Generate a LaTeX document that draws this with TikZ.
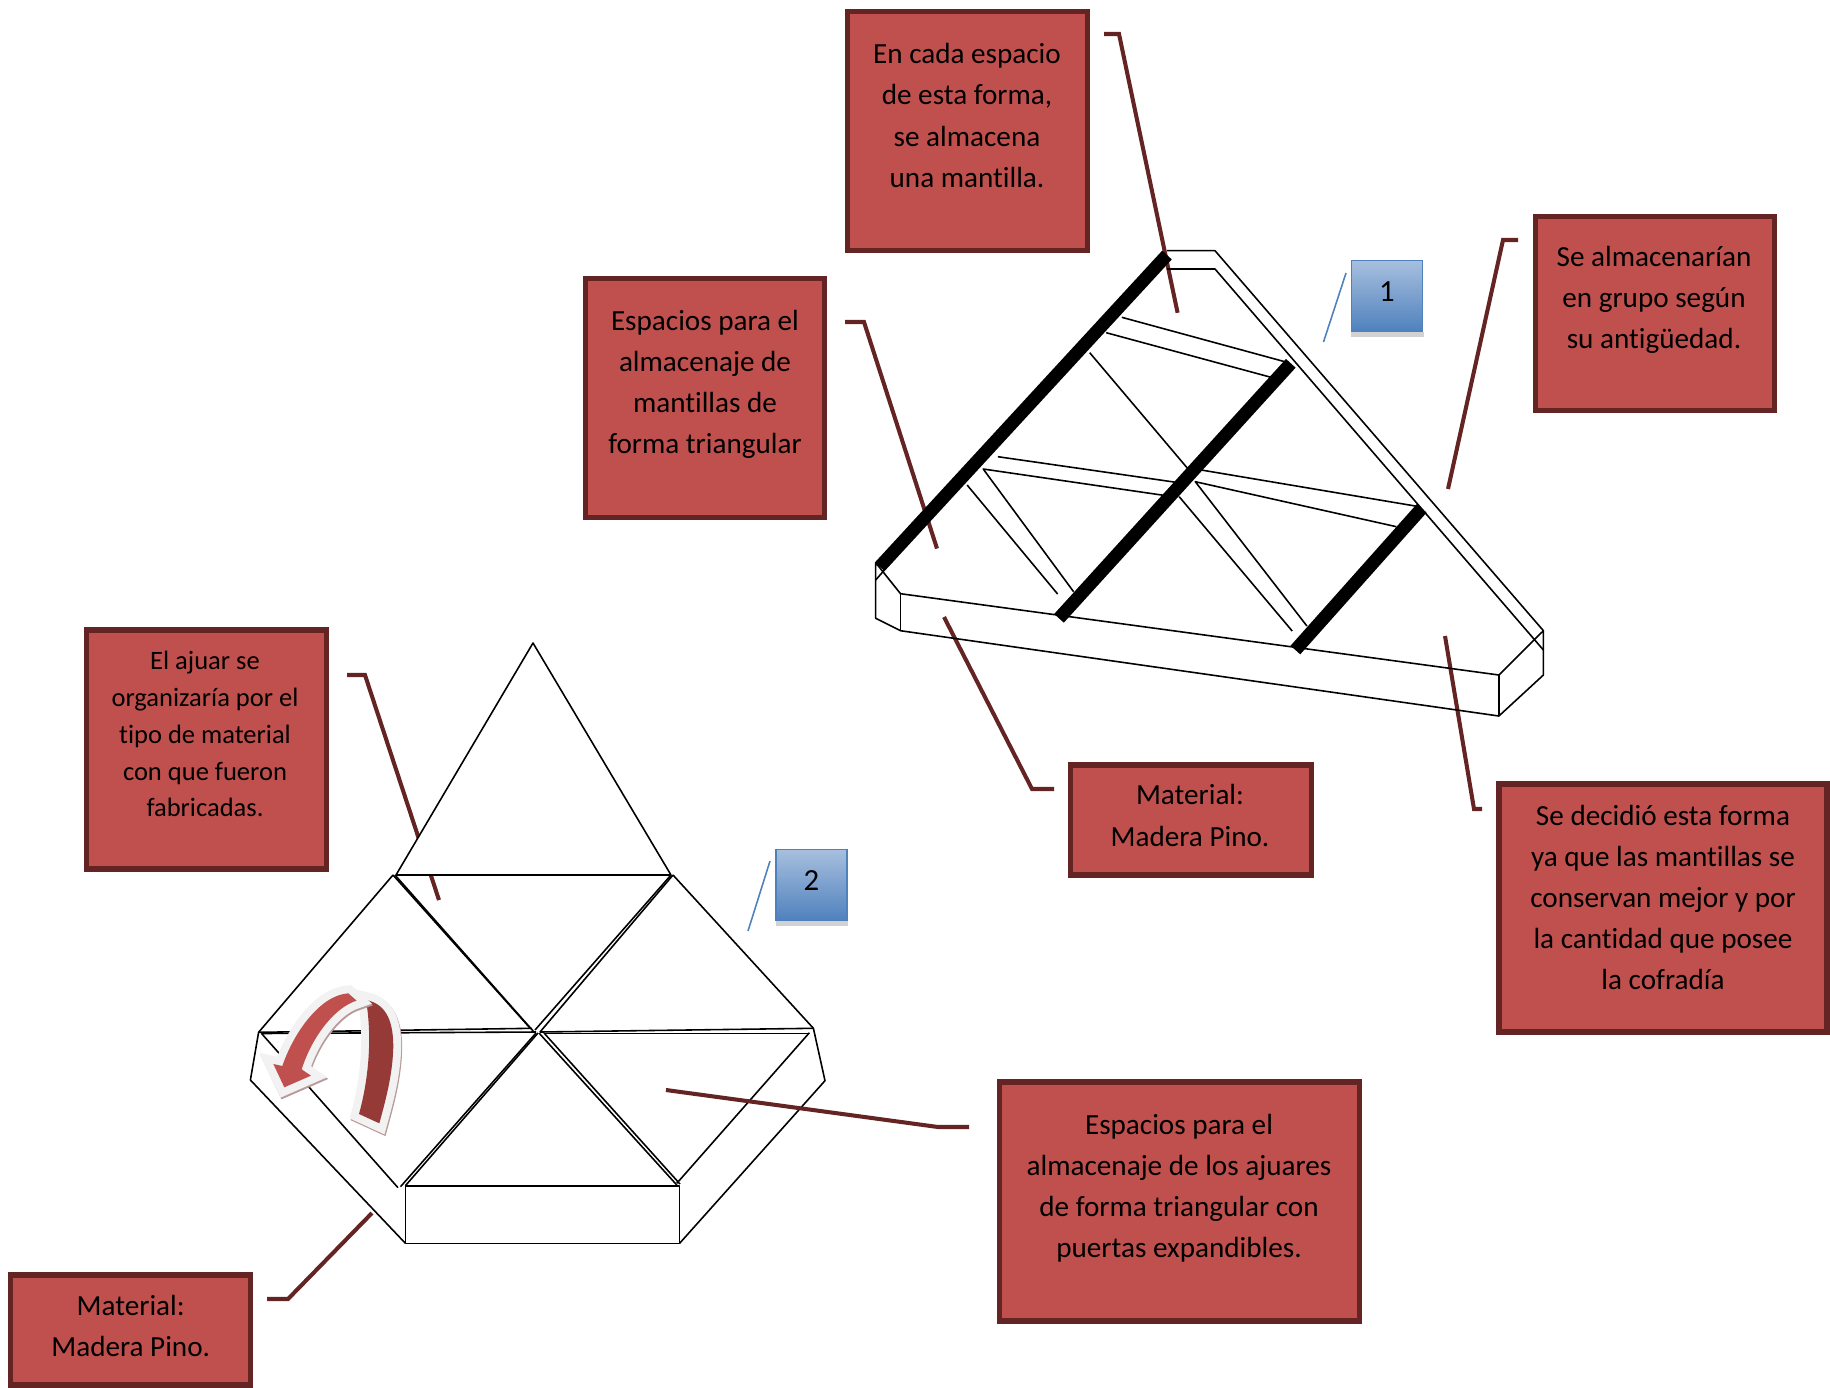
\documentclass[tikz,border=0pt]{standalone}
\usepackage{fontspec}
\setmainfont{Carlito}[Ligatures=NoCommon]
\definecolor{boxred}{HTML}{C0504D}
\definecolor{boxbrown}{HTML}{632423}
\definecolor{bandred}{HTML}{963A38}
\definecolor{bandshade}{HTML}{B99A9A}
\definecolor{bandedge}{HTML}{F2F2F2}
\definecolor{blueedge}{HTML}{4F81BD}
\definecolor{bluetop}{HTML}{A7BFDE}
\tikzset{
  redbox/.style={draw=boxbrown,fill=boxred,line width=2.9pt,rectangle},
  boxtext/.style={align=center,inner sep=0pt,font=\fontsize{16.6}{23.4}\selectfont},
  smalltext/.style={align=center,inner sep=0pt,font=\fontsize{15.1}{21}\selectfont},
  numbox/.style={draw=blueedge,line width=0.8pt,top color=bluetop,bottom color=blueedge,
    minimum width=1.42cm,minimum height=1.42cm,font=\fontsize{17.5}{20}\selectfont},
  thin line/.style={black,line width=0.9pt,line join=round},
  thick bar/.style={black,line width=7.4pt},
  leader/.style={boxbrown,line width=2.3pt},
  blue leader/.style={blueedge,line width=0.9pt},
}
\def\lightband{(70,282) -- (97,288) .. controls (130,190) and (210,75) .. (295,70) -- (320,92)
  .. controls (260,110) and (190,190) .. (155,298) -- (183,317) -- (103,352) -- cycle}
\def\darkband{(348,90) .. controls (400,100) and (430,140) .. (430,230)
  .. controls (428,310) and (410,380) .. (388,460) -- (327,432)
  .. controls (350,350) and (370,220) .. (348,90) -- cycle}
\begin{document}
\begin{tikzpicture}[x=0.02cm,y=-0.02cm]
    \useasboundingbox (0,0) rectangle (1830,1387);

    % boxes
    \node[redbox,minimum width=4.80cm,minimum height=4.78cm] (boxa) at (967.5,131) {};
    \node[redbox,minimum width=4.78cm,minimum height=4.78cm] (boxb) at (705,398) {};
    \node[redbox,minimum width=4.78cm,minimum height=3.88cm] (boxc) at (1655,313.5) {};
    \node[redbox,minimum width=4.82cm,minimum height=2.20cm] (boxd) at (1191,820) {};
    \node[redbox,minimum width=6.56cm,minimum height=4.96cm] (boxe) at (1663,908) {};
    \node[redbox,minimum width=4.80cm,minimum height=4.78cm] (boxf) at (206.5,749.5) {};
    \node[redbox,minimum width=7.20cm,minimum height=4.78cm] (boxg) at (1179.5,1201.5) {};
    \node[redbox,minimum width=4.80cm,minimum height=2.20cm] (boxh) at (130.5,1330) {};

    \node[boxtext] (texta) at (967,115.5) {En cada espacio\\de esta forma,\\se almacena\\una mantilla.};
    \node[boxtext] (textb) at (705,384.5) {Espacios para el\\almacenaje de\\mantillas de\\forma triangular};
    \node[boxtext] (textc) at (1654,300) {Se almacenarían\\en grupo según\\su antigüedad.};
    \node[boxtext] (textd) at (1190,815.5) {Material:\\Madera Pino.};
    \node[boxtext] (texte) at (1663,897.5) {Se decidió esta forma\\ya que las mantillas se\\conservan mejor y por\\la cantidad que posee\\la cofradía};
    \node[smalltext] (textf) at (205,734) {El ajuar se\\organizaría por el\\tipo de material\\con que fueron\\fabricadas.};
    \node[boxtext] (textg) at (1179,1188.5) {Espacios para el\\almacenaje de los ajuares\\de forma triangular con\\puertas expandibles.};
    \node[boxtext] (texth) at (130.7,1326) {Material:\\Madera Pino.};

    % number tags
    \fill[gray!35] (1351,332) rectangle (1424,337);
    \fill[gray!35] (776,921) rectangle (848,926);
    \node[numbox] (numa) at (1387,296) {\raisebox{4.8pt}{1}};
    \node[numbox] (numb) at (811.5,885) {\raisebox{4.8pt}{2}};

    \coordinate (bluetopa) at (1346,273);  \coordinate (blueenda) at (1323.5,342);
    \coordinate (bluetopb) at (770,861);   \coordinate (blueendb) at (748,931);
    \draw[blue leader] (bluetopa) -- (blueenda);
    \draw[blue leader] (bluetopb) -- (blueendb);

    % leaders behind the drawing
    \coordinate (starta) at (1104,34);  \coordinate (stepa) at (1119,34);   \coordinate (enda) at (1177.6,312.8);
    \coordinate (startb) at (845,322);  \coordinate (stepb) at (864,322);   \coordinate (endb) at (937,548.5);
    \coordinate (startc) at (1518,240); \coordinate (stepc) at (1503,240);  \coordinate (endc) at (1448,489);
    \coordinate (startd) at (1054,789); \coordinate (stepd) at (1032,789);  \coordinate (endd) at (944,617);
    \coordinate (starte) at (1482,809); \coordinate (stepe) at (1474,809);  \coordinate (ende) at (1445,636);
    \coordinate (startf) at (347,675);  \coordinate (stepf) at (365,675);   \coordinate (endf) at (439,900);
    \coordinate (startg) at (969,1127); \coordinate (stepg) at (938,1127);  \coordinate (endg) at (666,1090);
    \coordinate (starth) at (267,1299); \coordinate (steph) at (288,1299);  \coordinate (endh) at (372,1213);
    \draw[leader] (starta) -- (stepa) -- (enda);
    \draw[leader] (startb) -- (stepb) -- (endb);
    \draw[leader] (startc) -- (stepc) -- (endc);
    \draw[leader] (startd) -- (stepd) -- (endd);
    \draw[leader] (starte) -- (stepe) -- (ende);
    \draw[leader] (startf) -- (stepf) -- (endf);
    \draw[leader] (starth) -- (steph) -- (endh);

    % upper tray
    \draw[thin line] (1167,250.7) -- (1215,250.7) -- (1543.4,630.7) -- (1543.4,675) -- (1498.9,716)
        -- (900.5,630.7) -- (875.7,618.3) -- (875.7,562.7) -- (900.5,593.7) -- (1498.9,675) -- (1543.4,630.7);
    \draw[thin line] (1167,269) -- (1215,269) -- (1543.4,650);
    \draw[thin line] (900.5,593.7) -- (900.5,630.7);
    \draw[thin line] (1498.9,675) -- (1498.9,716);
    \draw[thin line] (875.7,580) -- (884.4,570);
    \draw[thin line] (1121.8,317.3) -- (1288.5,362.7);
    \draw[thin line] (1106.2,332.7) -- (1272.5,377.7);
    \draw[thin line] (1089.7,352.7) -- (1187.5,468.3);
    \draw[thin line] (997.9,456.7) -- (1176,482.3);
    \draw[thin line] (1073.6,591.7) -- (983.2,469) -- (1163.6,495.3);
    \draw[thin line] (967.1,485) -- (1057.6,594);
    \draw[thin line] (1201.3,470) -- (1419.4,506.7);
    \draw[thin line] (1396.4,526.7) -- (1195.3,481.7) -- (1306.9,626);
    \draw[thin line] (1179.2,496.7) -- (1292.2,631);
    \draw[thick bar] (1167,255) -- (879.8,566.7);
    \draw[thick bar] (1290.8,363.3) -- (1059,618.3);
    \draw[thick bar] (1421.7,508.3) -- (1295.4,650);

    % lower tray
    \filldraw[thin line,fill=white] (396,875) -- (533,643) -- (671,875) -- cycle;
    \draw[thin line] (405.4,1185.7) rectangle (679.6,1243.3);
    \draw[thin line] (393,875) -- (258.6,1032.3) -- (250.4,1080) -- (405.4,1243.3);
    \draw[thin line] (673,875) -- (813.4,1028.3) -- (825,1080.7) -- (679.6,1243.3);
    \draw[thin line] (261.4,1033.3) -- (398,1187.7);
    \draw[thin line] (809.4,1032.7) -- (676.8,1183.3);
    \draw[thin line] (393,875) -- (530,1028);
    \draw[thin line] (395,875) -- (534,1032);
    \draw[thin line] (673,875) -- (540,1032);
    \draw[thin line] (671,875) -- (535,1030);
    \draw[thin line] (538,1033) -- (405.4,1185.7);
    \draw[thin line] (536,1033) -- (400.5,1186.7);
    \draw[thin line] (539,1033) -- (676.8,1185);
    \draw[thin line] (544,1033) -- (680,1184);
    \draw[thin line] (258.6,1032.3) -- (532,1028.3);
    \draw[thin line] (262,1033.5) -- (536,1032);
    \draw[thin line] (540,1032) -- (813.4,1028.3);
    \draw[thin line] (544,1033.5) -- (809.4,1033.5);

    % leader in front of the tray
    \draw[leader] (startg) -- (stepg) -- (endg);

    % curved arrow
    \begin{scope}[shift={(250,970)},scale=0.3333]
        \filldraw[bandshade,line width=9pt,xshift=1.7pt,yshift=-3pt] \darkband;
        \filldraw[fill=bandred,draw=bandedge,line width=9pt] \darkband;
        \fill[bandred] \darkband;
        \filldraw[bandshade,line width=9pt,xshift=1.7pt,yshift=-3pt] \lightband;
        \filldraw[fill=boxred,draw=bandedge,line width=9pt] \lightband;
        \fill[boxred] \lightband;
    \end{scope}
\end{tikzpicture}
\end{document}
